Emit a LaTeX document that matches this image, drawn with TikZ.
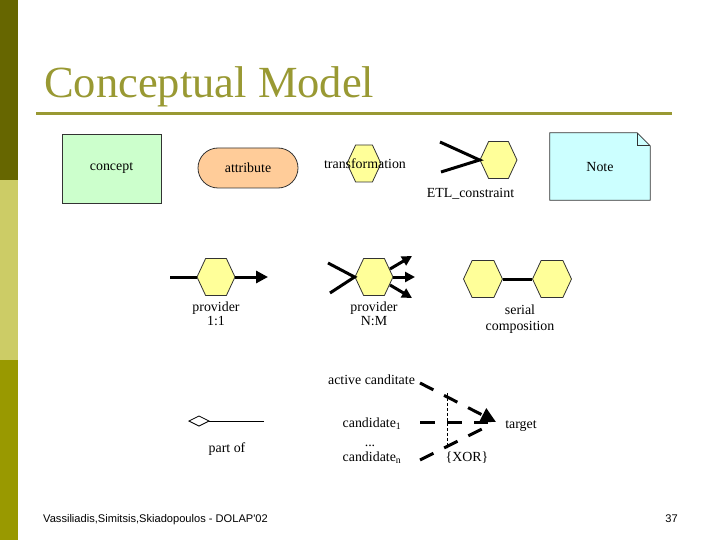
\documentclass[tikz,border=0pt]{standalone}
\usepackage{fontspec}
\setmainfont{Liberation Serif}
\newfontfamily\footfont{Liberation Sans}
\usetikzlibrary{shapes.symbols,arrows.meta,calc}
\definecolor{barA}{HTML}{666600}
\definecolor{barB}{HTML}{CCCC66}
\definecolor{barC}{HTML}{999900}
\definecolor{titlecol}{HTML}{999933}
\definecolor{conceptfill}{HTML}{CCFFCC}
\definecolor{attrfill}{HTML}{FFCC99}
\definecolor{hexfill}{HTML}{FFFF99}
\definecolor{notefill}{HTML}{CCFFFF}
\definecolor{edge}{HTML}{333333}
\begin{document}
\begin{tikzpicture}[x=1pt,y=-1pt,
  lbl/.style={font=\fontsize{13.9}{16}\selectfont, inner sep=0pt},
  hexnode/.style={signal, signal to=west and east, signal pointer angle=130,
    draw=edge, fill=hexfill, line width=0.8pt, minimum width=#1,
    minimum height=37pt, inner sep=0pt},
  hexnode/.default=38pt,
  heavy/.style={line width=3pt},
  arr/.style={heavy, -{Triangle[length=12pt,width=12pt]}},
  smallarr/.style={heavy, -{Triangle[length=10pt,width=10pt]}},
  xordash/.style={line width=3pt, dash pattern=on 15pt off 12pt},
  thinbox/.style={draw=edge, line width=0.8pt},
]
\useasboundingbox (0,0) rectangle (720,540);
\fill[white] (0,0) rectangle (720,540);
\fill[barA] (0,0) rectangle (18,180);
\fill[barB] (0,180) rectangle (18,360);
\fill[barC] (0,360) rectangle (18,540);

% title
\node[anchor=base west, inner sep=0pt, font=\fontsize{44.5}{50}\selectfont, text=titlecol] (title) at (44,98) {Conceptual Model};
\coordinate (ruleL) at (36,114);
\coordinate (ruleR) at (672,114);
\draw[titlecol, line width=3pt] (ruleL) -- (ruleR);

% row 1
\node[lbl, thinbox, fill=conceptfill, minimum width=99pt, minimum height=69pt] (concept) at (111.5,168.5) {concept};
\node[lbl, thinbox, fill=attrfill, rounded corners=20pt, minimum width=100pt, minimum height=40pt] (attr) at (248,168) {attribute};
\node[hexnode=34pt] (trhex) at (364,163.5) {};
\node[lbl] (trtxt) at (365,164) {transformation};

\node[hexnode=37pt] (etlhex) at (498.5,160) {};
\coordinate (etl1) at (440,142);
\coordinate (etl2) at (441,172);
\draw[heavy] (etl1) -- (etlhex.west) -- (etl2);
\node[lbl] (etltxt) at (470.5,194) {ETL\_constraint};

\path node[inner sep=0pt, minimum width=100pt, minimum height=67pt] (note) at (600,166.5) {};
\draw[thinbox, fill=notefill] (note.south west) -- (note.north west) -- ($(note.north east)+(-13,0)$) -- ($(note.north east)+(0,13)$) -- (note.south east) -- cycle;
\draw[thinbox] ($(note.north east)+(-13,0)$) -- ($(note.north east)+(-13,13)$) -- ($(note.north east)+(0,13)$);
\node[lbl] (notetxt) at (600,167) {Note};

% row 2: provider 1:1
\node[hexnode=38pt] (p1hex) at (216,277) {};
\coordinate (p1in) at (170,277);
\coordinate (p1out) at (268,277);
\draw[heavy] (p1in) -- (p1hex.west);
\draw[arr] (p1hex.east) -- (p1out);
\node[lbl, anchor=base] (p1a) at (216,311) {provider};
\node[lbl, anchor=base] (p1b) at (216,325) {1:1};

% provider N:M
\node[hexnode=38pt] (pnhex) at (374,277) {};
\coordinate (pnin1) at (328,263);
\coordinate (pnin2) at (330,293);
\draw[heavy] (pnin1) -- (pnhex.west) -- (pnin2);
\coordinate (pno1s) at (390,269);
\coordinate (pno1) at (412,256);
\coordinate (pno2) at (415,277);
\coordinate (pno3s) at (390,285);
\coordinate (pno3) at (412,298);
\draw[smallarr] (pno1s) -- (pno1);
\draw[smallarr] (pnhex.east) -- (pno2);
\draw[smallarr] (pno3s) -- (pno3);
\node[lbl, anchor=base] (pna) at (374,311) {provider};
\node[lbl, anchor=base] (pnb) at (374,325) {N:M};

% serial composition
\node[hexnode=39pt] (s1hex) at (483,279) {};
\node[hexnode=39pt] (s2hex) at (552,279) {};
\draw[heavy] (s1hex.east) -- (s2hex.west);
\node[lbl, anchor=base] (sa) at (520,314) {serial};
\node[lbl, anchor=base] (sb) at (520,330) {composition};

% row 3: part of
\coordinate (pe) at (264,421);
\coordinate (pd) at (188,421);
\draw[line width=0.8pt, -{Diamond[open,length=22pt,width=11pt]}] (pe) -- (pd);
\node[lbl, anchor=base] (partof) at (227,452) {part of};

% XOR
\node[lbl, anchor=base] (act) at (371.5,384) {active canditate};
\node[lbl, anchor=base] (c1) at (372,427) {candidate\textsubscript{1}};
\node[lbl, anchor=base] (dots) at (370,446) {...};
\node[lbl, anchor=base] (cn) at (372,461) {candidate\textsubscript{n}};
\node[lbl, anchor=base] (xor) at (467,461) {\{XOR\}};
\node[lbl, anchor=base] (tgt) at (521,428) {target};
\coordinate (x1s) at (420,383);
\coordinate (x2s) at (420,422);
\coordinate (x3s) at (420,460);
\coordinate (xt) at (496,422);
\coordinate (xt2) at (488,422);
\coordinate (xt3) at (490,425);
\draw[xordash, -{Triangle[length=15pt,width=15pt]}] (x1s) -- (xt);
\draw[xordash] (x2s) -- (xt2);
\draw[xordash] (x3s) -- (xt3);
\coordinate (vt) at (447,393);
\coordinate (vb) at (447,448);
\draw[line width=0.8pt, dash pattern=on 3pt off 2pt] (vt) -- (vb);

% footer
\node[anchor=base west, inner sep=0pt, font=\footfont\fontsize{11.1}{13}\selectfont] (foot) at (43,522) {Vassiliadis,Simitsis,Skiadopoulos - DOLAP'02};
\node[anchor=base east, inner sep=0pt, font=\footfont\fontsize{11.1}{13}\selectfont] (page) at (678,522) {37};
\end{tikzpicture}
\end{document}
